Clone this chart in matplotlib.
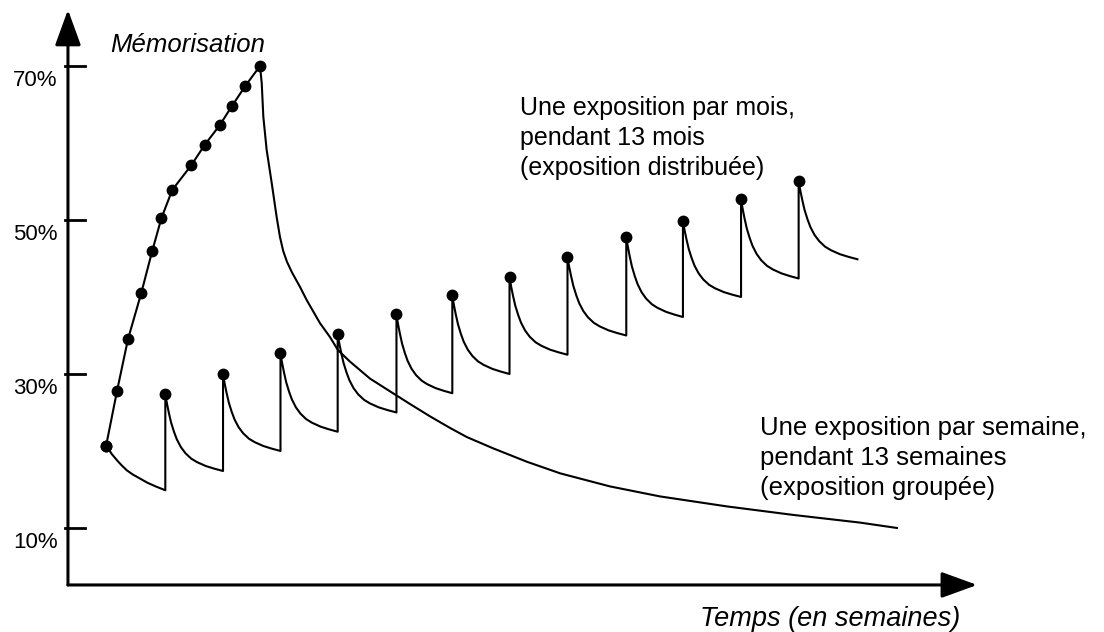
import matplotlib.pyplot as plt

plt.rcParams['font.family'] = ['Liberation Sans', 'DejaVu Sans']

# Exposition groupée : une exposition par semaine pendant 13 semaines
semaines_x = [0, 0.83, 1.65, 2.65, 3.48, 4.16, 4.98, 6.41, 7.44, 8.55, 9.47, 10.47, 11.58]
semaines_memo = [20.6, 27.8, 34.5, 40.5, 46.0, 50.2, 53.9, 57.1, 59.8, 62.3, 64.8, 67.4, 70.0]

# Oubli après la dernière exposition hebdomadaire
oubli_x = [11.58, 11.71, 11.83, 12.08, 12.46, 12.83, 13.08, 13.32, 13.60, 13.98, 14.59, 15.09,
           16.09, 16.84, 17.44, 18.35, 19.85, 21.58, 22.86, 24.36, 25.86, 27.14, 29.10, 31.65,
           34.14, 37.89, 41.65, 46.69, 51.65, 56.69, 59.47]
oubli_memo = [70.0, 67.75, 63.4, 59.1, 54.8, 50.4, 47.8, 46.0, 44.6, 43.2, 41.3, 39.6,
              36.6, 34.8, 33.1, 31.6, 29.4, 27.5, 26.1, 24.5, 23.0, 21.8, 20.35, 18.6,
              17.1, 15.4, 14.1, 12.8, 11.7, 10.7, 10.0]

# Exposition distribuée : une exposition par mois pendant 13 mois
mois_x = [0, 4.46, 8.80, 13.12, 17.42, 21.84, 26.04, 30.34, 34.70, 39.12, 43.38, 47.75, 52.08]
mois_fin = 56.5
mois_pic = [20.6, 27.4, 30.0, 32.7, 35.2, 37.75, 40.2, 42.6, 45.2, 47.8, 49.9, 52.7, 55.1]
mois_creux = [14.9, 17.4, 20.0, 22.5, 25.0, 27.5, 30.0, 32.5, 35.0, 37.4, 40.0, 42.4, 44.9]

# Allure de l'oubli au cours d'un mois (0 = exposition, 1 = exposition suivante)
forme_t = [0, 0.015, 0.03, 0.06, 0.10, 0.15, 0.20, 0.27, 0.35, 0.45, 0.55, 0.70, 0.85, 1.0]
forme_v = [1, 0.93, 0.87, 0.76, 0.63, 0.51, 0.41, 0.31, 0.23, 0.16, 0.115, 0.065, 0.03, 0]
# le premier mois descend plus doucement
forme_v_debut = [1, 0.98, 0.96, 0.90, 0.82, 0.74, 0.66, 0.56, 0.455, 0.36, 0.285, 0.17, 0.08, 0]

graduations = [10, 30, 50, 70]

# courbe en dents de scie de l'exposition mensuelle
fins = mois_x[1:] + [mois_fin]
dents_x, dents_y = [], []
for i, (debut, fin, pic, creux) in enumerate(zip(mois_x, fins, mois_pic, mois_creux)):
    forme = forme_v_debut if i == 0 else forme_v
    for t, v in zip(forme_t, forme):
        dents_x.append(debut + t * (fin - debut))
        dents_y.append(creux + v * (pic - creux))

fig = plt.figure(figsize=(11.04, 6.32), dpi=100)
ax = fig.add_axes([0, 0, 1, 1])
ax.set_xlim(-7.97, 75.04)
ax.set_ylim(-3.51, 78.57)
ax.axis('off')

x0, y0 = -2.86, 2.6
fleche = dict(arrowstyle='-|>,head_length=1.1,head_width=0.4', lw=2.2, color='black',
              mutation_scale=20, shrinkA=0, shrinkB=0)
ax.annotate('', xy=(x0, 77.3), xytext=(x0, y0), arrowprops=fleche)
ax.annotate('', xy=(65.5, y0), xytext=(x0, y0), arrowprops=fleche)

for g in graduations:
    ax.plot([x0 - 0.25, x0 + 1.3], [g, g], color='black', lw=2)
    ax.annotate(f'{g}%', xy=(x0, g), xytext=(-7.5, -14.4), textcoords='offset points',
                ha='right', va='baseline', fontsize=16)

ax.plot(semaines_x, semaines_memo, color='black', lw=1.5, marker='o', ms=7.5)
ax.plot(oubli_x, oubli_memo, color='black', lw=1.5)
ax.plot(dents_x, dents_y, color='black', lw=1.5)
ax.plot(mois_x, mois_pic, 'o', color='black', ms=7.5)

ax.text(0.3, 71.8, 'Mémorisation', fontsize=18.5, style='italic', va='baseline')
ax.text(64.2, -2.75, 'Temps (en semaines)', fontsize=19.5, style='italic',
        ha='right', va='baseline')

lignes_mois = ['Une exposition par mois,', 'pendant 13 mois', '(exposition distribuée)']
for i, ligne in enumerate(lignes_mois):
    ax.text(31.13, 63.64 - i * 3.9, ligne, fontsize=18, va='baseline')

lignes_semaine = ['Une exposition par semaine,', 'pendant 13 semaines', '(exposition groupée)']
for i, ligne in enumerate(lignes_semaine):
    ax.text(49.17, 22.08 - i * 3.9, ligne, fontsize=18.5, va='baseline')

fig.savefig('out.png', dpi=100)
